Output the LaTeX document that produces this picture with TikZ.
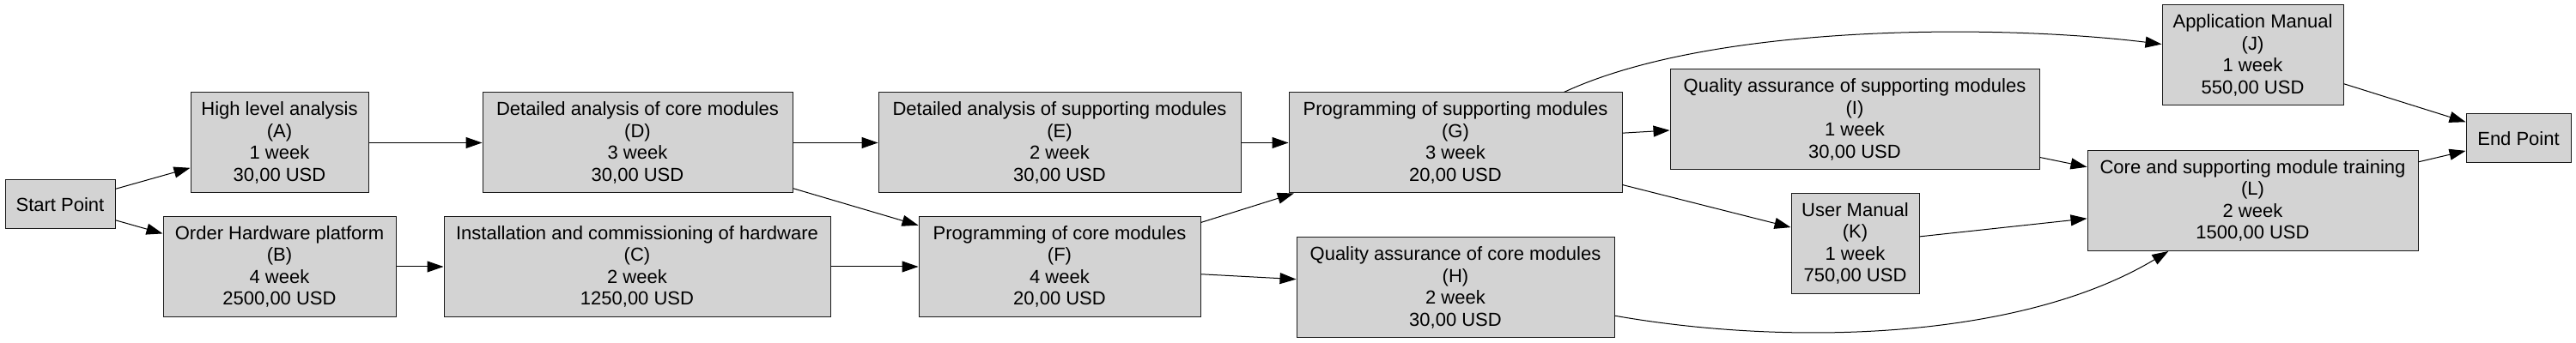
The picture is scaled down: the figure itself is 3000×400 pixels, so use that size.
\documentclass[tikz,border=0pt]{standalone}
\usepackage{fontspec}
\setmainfont{Liberation Sans}
\usetikzlibrary{arrows.meta}
\definecolor{tasklight}{HTML}{D3D3D3}
\definecolor{taskline}{HTML}{1A1A1A}

\begin{document}
\begin{tikzpicture}[
  x=0.5pt, y=0.5pt,
  every node/.style={font=\fontsize{11}{12.75}\selectfont},
  task/.style={rectangle, draw=taskline, fill=tasklight, line width=0.5pt, minimum width=#1, minimum height=58.5pt, align=center, inner sep=1pt},
  terminal/.style={rectangle, draw=taskline, fill=tasklight, line width=0.5pt, minimum width=#1, minimum height=28.5pt, align=center, inner sep=1pt},
  flow/.style={-{Triangle[length=9.5pt, width=6.5pt]}, line width=0.5pt, black},
]
\useasboundingbox (0,0) rectangle (3000,-400);

% Start / end
\node[terminal=64pt] (start) at (70, -238.5) {Start Point};
\node[terminal=61pt] (finish) at (2933, -161.5) {End Point};

% Analysis and hardware
\node[task=103.5pt] (A) at (325.5, -166.5) {High level analysis\\(A)\\1 week\\30,00 USD};
\node[task=135.5pt] (B) at (325.5, -311) {Order Hardware platform\\(B)\\4 week\\2500,00 USD};
\node[task=180.5pt] (D) at (742.5, -166.5) {Detailed analysis of core modules\\(D)\\3 week\\30,00 USD};
\node[task=225pt] (C) at (742, -311) {Installation and commissioning of hardware\\(C)\\2 week\\1250,00 USD};
\node[task=211pt] (E) at (1234, -166.5) {Detailed analysis of supporting modules\\(E)\\2 week\\30,00 USD};
\node[task=164pt] (F) at (1234, -311) {Programming of core modules\\(F)\\4 week\\20,00 USD};

% Programming and QA
\node[task=194pt] (G) at (1695, -166.5) {Programming of supporting modules\\(G)\\3 week\\20,00 USD};
\node[task=185pt] (H) at (1695, -335.5) {Quality assurance of core modules\\(H)\\2 week\\30,00 USD};
\node[task=215pt] (I) at (2160, -139.5) {Quality assurance of supporting modules\\(I)\\1 week\\30,00 USD};
\node[task=74.5pt] (K) at (2160.5, -284) {User Manual\\(K)\\1 week\\750,00 USD};

% Manuals and training
\node[task=105.5pt] (J) at (2623.5, -64.5) {Application Manual\\(J)\\1 week\\550,00 USD};
\node[task=192.5pt] (L) at (2623.5, -234) {Core and supporting module training\\(L)\\2 week\\1500,00 USD};

% Connections
\foreach \t in {A,B} \draw[flow] (start) -- (\t);
\draw[flow] (A) -- (D);
\draw[flow] (B) -- (C);
\foreach \t in {E,F} \draw[flow] (D) -- (\t);
\draw[flow] (C) -- (F);
\draw[flow] (E) -- (G);
\foreach \t in {G,H} \draw[flow] (F) -- (\t);
\foreach \t in {I,K} \draw[flow] (G) -- (\t);
\draw[flow] (G) to[out=25, in=173, looseness=0.7] (J);
\foreach \t in {I,K} \draw[flow] (\t) -- (L);
\draw[flow] (H) to[out=-10, in=211, looseness=0.8] (L);
\foreach \t in {J,L} \draw[flow] (\t) -- (finish);

\end{tikzpicture}
\end{document}
